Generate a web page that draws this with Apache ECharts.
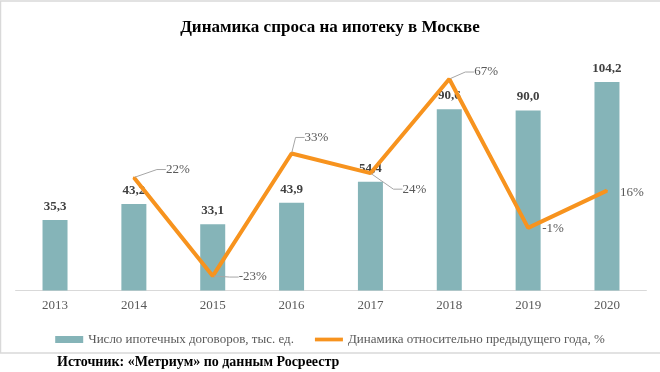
<!DOCTYPE html>
<html>
<head>
<meta charset="utf-8">
<script src="https://cdn.jsdelivr.net/npm/echarts@6/dist/echarts.min.js"></script>
<style>html,body{margin:0;padding:0;background:#fff}#c{width:660px;height:372px}</style>
</head>
<body>
<div id="c"></div>
<script>
const years = ['2013','2014','2015','2016','2017','2018','2019','2020'];
const contracts = [35.3, 43.2, 33.1, 43.9, 54.4, 90.6, 90.0, 104.2];
const growth = [null, 22, -23, 33, 24, 67, -1, 16];
const barName = 'Число ипотечных договоров, тыс. ед.';
const lineName = 'Динамика относительно предыдущего года, %';

const FONT = '"Liberation Serif", "Times New Roman", serif';
// label offsets for the line labels (layout only)
const lineLabelShift = {
  1: [26, -8, true], 2: [20, 1, true], 3: [7, -16, true], 4: [26, 16, true],
  5: [19, -7, true], 6: [8, 1, false], 7: [7, 2, false]
};

const chart = echarts.init(document.getElementById('c'));
chart.setOption({
  animation: false,
  textStyle: { fontFamily: FONT },
  title: [
    { text: 'Динамика спроса на ипотеку в Москве', left: 'center', top: 19, padding: 0,
      textStyle: { fontFamily: FONT, fontSize: 17, fontWeight: 'bold', color: '#000' } },
    { text: 'Источник: «Метриум» по данным Росреестр', left: 57, top: 355, padding: 0,
      textStyle: { fontFamily: FONT, fontSize: 14, fontWeight: 'bold', color: '#000' } }
  ],
  graphic: [
    { type: 'rect', shape: { x: 0.5, y: 1, width: 720, height: 352 }, silent: true, z: -10,
      style: { fill: 'none', stroke: '#d9d9d9', lineWidth: 1.5 } }
  ],
  legend: {
    top: 328, left: 'center', itemGap: 21, itemWidth: 28, itemHeight: 7,
    textStyle: { fontFamily: FONT, fontSize: 13, color: '#595959' },
    data: [
      { name: barName, icon: 'rect' },
      { name: lineName, icon: 'path://M0 0H30V4H0Z' }
    ]
  },
  grid: { left: 15.6, right: 13.6, top: 40.5, bottom: 81.5 },
  xAxis: {
    type: 'category', data: years,
    axisLine: { lineStyle: { color: '#d9d9d9', width: 1 } },
    axisTick: { show: false },
    axisLabel: { fontFamily: FONT, fontSize: 13, color: '#595959', margin: 9 }
  },
  yAxis: [
    { type: 'value', min: 0, max: 125, show: false, splitLine: { show: false } },
    { type: 'value', min: -29.6, max: 84.6, show: false, splitLine: { show: false } }
  ],
  series: [
    {
      name: barName, type: 'bar', data: contracts, barWidth: 25,
      itemStyle: { color: '#85B4B8' },
      label: {
        show: true, position: 'top', distance: 7,
        fontFamily: FONT, fontSize: 13, fontWeight: 'bold', color: '#404040',
        formatter: p => p.value.toFixed(1).replace('.', ',')
      }
    },
    {
      name: lineName, type: 'line', yAxisIndex: 1, z: 5,
      data: growth.map((v, i) => ({
        value: v,
        labelLine: { show: lineLabelShift[i] ? lineLabelShift[i][2] : false }
      })),
      symbol: 'circle', symbolSize: 2, showSymbol: true,
      lineStyle: { color: '#F7931E', width: 4 },
      itemStyle: { color: '#F7931E' },
      label: {
        show: true, position: 'right', distance: 5,
        fontFamily: FONT, fontSize: 13, color: '#595959',
        formatter: p => p.value + '%'
      },
      labelLine: { show: true, length2: 9, lineStyle: { color: '#a6a6a6', width: 1 } },
      labelLayout: p => {
        const s = lineLabelShift[p.dataIndex];
        return s ? { dx: s[0], dy: s[1] } : {};
      }
    }
  ]
});
</script>
</body>
</html>
